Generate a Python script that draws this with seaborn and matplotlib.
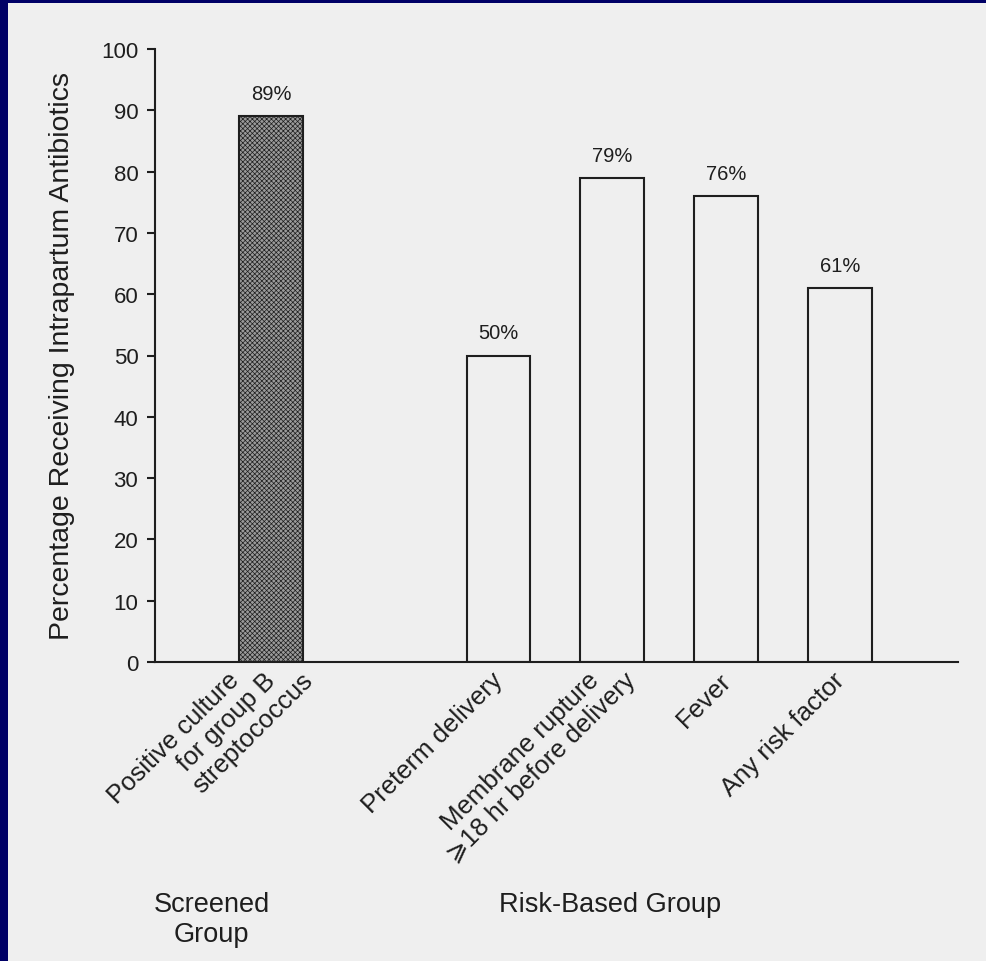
import matplotlib
matplotlib.use("Agg")
import matplotlib.pyplot as plt
import matplotlib.transforms as mtransforms
from matplotlib.patches import Rectangle
import seaborn as sns
import pandas as pd

# ---- data ----
categories = [
    "Positive culture\nfor group B\nstreptococcus",
    "Preterm delivery",
    "Membrane rupture\n\u2a7e18 hr before delivery",
    "Fever",
    "Any risk factor",
]
values = [89, 50, 79, 76, 61]
groups = ["Screened", "Risk-Based", "Risk-Based", "Risk-Based", "Risk-Based"]
group_titles = {"Screened": "Screened\nGroup", "Risk-Based": "Risk-Based Group"}
value_labels = [f"{v}%" for v in values]
y_ticks = list(range(0, 101, 10))
y_label = "Percentage Receiving Intrapartum Antibiotics"

# ---- style ----
BG = "#efefef"
NAVY = "#000066"
TXT = "#1e1e1e"
sns.set_style("ticks")
plt.rcParams["font.family"] = ["Liberation Sans", "DejaVu Sans"]
plt.rcParams["hatch.linewidth"] = 0.5

W, H, DPI = 987, 962, 100
fig = plt.figure(figsize=(W / DPI, H / DPI), dpi=DPI, facecolor=BG)

# navy frame strips (top and left)
fig.patches.append(Rectangle((0, 1 - 4 / H), 1, 4 / H, transform=fig.transFigure,
                             facecolor=NAVY, edgecolor="none", zorder=10))
fig.patches.append(Rectangle((0, 0), 8 / W, 1, transform=fig.transFigure,
                             facecolor=NAVY, edgecolor="none", zorder=10))

ax = fig.add_axes([155 / W, 299 / H, 803 / W, 613 / H])
ax.set_facecolor("none")

gap = " "
order = [categories[0], gap] + categories[1:]
df = pd.DataFrame({"category": categories, "value": values, "group": groups})

sns.barplot(data=df, x="category", y="value", order=order, hue="group",
            palette={"Screened": "#9a9a9a", "Risk-Based": BG},
            width=0.56, edgecolor=TXT, linewidth=1.5, legend=False,
            dodge=False, ax=ax)

# hatch the screened bar
for patch in ax.patches:
    if patch.get_height() == values[0] and abs(patch.get_x() + patch.get_width() / 2) < 0.01:
        patch.set_hatch("xxxxxxx")

# value labels
pos_of = {c: order.index(c) for c in categories}
for c, v, lab in zip(categories, values, value_labels):
    ax.annotate(lab, (pos_of[c], v), xytext=(0, 9.5), textcoords="offset points",
                ha="center", va="bottom", fontsize=14.5, color=TXT)

ax.set_ylim(0, 100)
ax.set_xlim(-1.02, 6.04)
ax.set_yticks(y_ticks)
ax.tick_params(axis="y", labelsize=16, length=6, width=1.5, pad=6, colors=TXT)
ax.tick_params(axis="x", length=0, labelbottom=False)
ax.set_xlabel("")
ax.set_ylabel(y_label, fontsize=20.5, color=TXT)
ax.yaxis.set_label_coords(-0.1, 0.5)
sns.despine(ax=ax)
for s in ("left", "bottom"):
    ax.spines[s].set_linewidth(1.5)
    ax.spines[s].set_color(TXT)

# rotated category labels, one text per line
blend = mtransforms.blended_transform_factory(ax.transData, ax.transAxes)
for c in categories:
    lines = c.split("\n")
    n = len(lines)
    for k, line in enumerate(lines):
        dx = 6 + (k - (n - 1) / 2) * 37
        tr = mtransforms.offset_copy(blend, fig=fig, x=dx, y=-19, units="dots")
        ax.text(pos_of[c], 0, line, transform=tr, rotation=45, rotation_mode="anchor",
                ha="right", va="baseline", fontsize=18.5, color=TXT)

# group titles
for g, title in group_titles.items():
    ps = [pos_of[c] for c, gg in zip(categories, groups) if gg == g]
    xc = (min(ps) + max(ps)) / 2 - 0.52
    ax.text(xc, -0.374, title, transform=blend, ha="center", va="top",
            fontsize=19.5, linespacing=1.2, color=TXT)

fig.savefig("out.png", dpi=DPI, facecolor=BG)
